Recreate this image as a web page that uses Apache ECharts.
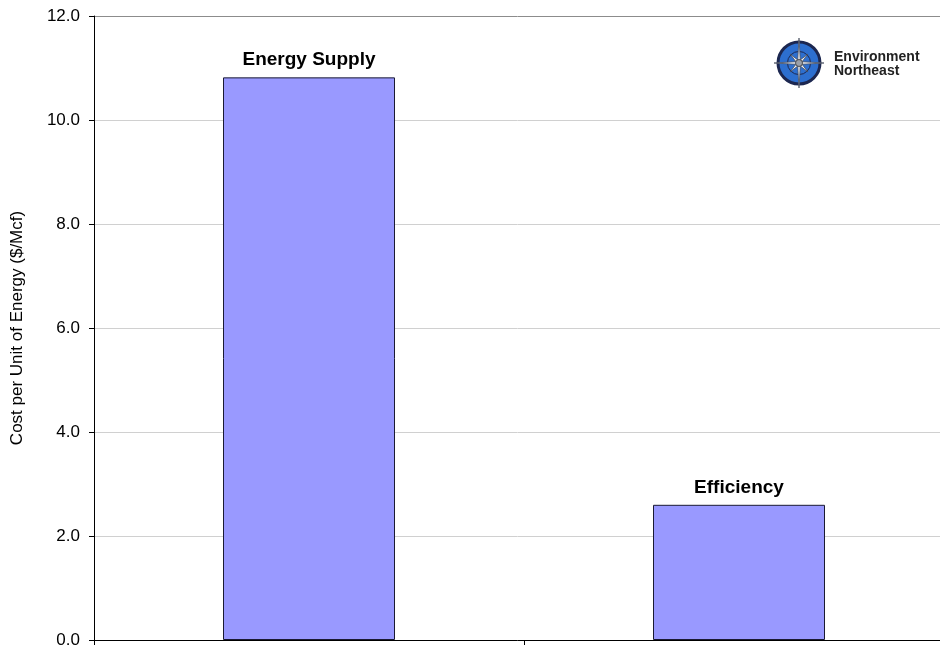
<!DOCTYPE html>
<html>
<head>
<meta charset="utf-8">
<script src="https://cdn.jsdelivr.net/npm/echarts@6/dist/echarts.min.js"></script>
<style>
html, body { margin: 0; padding: 0; background: #fff; }
#chart { width: 940px; height: 646px; }
</style>
</head>
<body>
<div id="chart"></div>
<script>
var categories = ['Energy Supply', 'Efficiency'];
var costValues = [10.82, 2.6];
var yTicks = [0, 2, 4, 6, 8, 10, 12];

var FONT = '"Liberation Sans", Arial, sans-serif';
var myChart = echarts.init(document.getElementById('chart'));

// compass logo, top right
function compassLogo(cx, cy) {
    var r = 21;
    var pts = [];
    // 4 long points, 4 medium diagonal points
    for (var i = 0; i < 16; i++) {
        var a = -Math.PI / 2 + i * Math.PI / 8;
        var len = (i % 4 === 0) ? r + 4 : (i % 2 === 0 ? r * 0.6 : r * 0.16);
        pts.push([cx + Math.cos(a) * len, cy + Math.sin(a) * len]);
    }
    return [
        { type: 'circle', shape: { cx: cx, cy: cy, r: r }, style: { fill: '#2d6fcf', stroke: '#1c2750', lineWidth: 3 }, z: 10 },
        { type: 'circle', shape: { cx: cx, cy: cy, r: r * 0.55 }, style: { fill: 'none', stroke: '#1c2750', lineWidth: 1 }, z: 10 },
        { type: 'polygon', shape: { points: pts }, style: { fill: '#eef1f6', stroke: '#4a5160', lineWidth: 0.8 }, z: 11 },
        { type: 'circle', shape: { cx: cx, cy: cy, r: 3.5 }, style: { fill: '#9aa0aa', stroke: '#333', lineWidth: 0.8 }, z: 12 },
        { type: 'text', left: cx + 35, top: cy - 13, style: { text: 'Environment\nNortheast', font: 'bold 14px ' + FONT, fill: '#222', lineHeight: 14 }, z: 12 }
    ];
}

var option = {
    animation: false,
    grid: { left: 94, width: 860, top: 16, bottom: 6, outerBoundsMode: 'none', containLabel: false },
    xAxis: {
        type: 'category',
        data: categories,
        axisLine: { lineStyle: { color: '#000', width: 1 } },
        axisTick: { show: true, length: 5, lineStyle: { color: '#000' } },
        axisLabel: { show: false }
    },
    yAxis: {
        type: 'value',
        min: yTicks[0],
        max: yTicks[yTicks.length - 1],
        interval: 2,
        name: 'Cost per Unit of Energy ($/Mcf)',
        nameLocation: 'middle',
        nameGap: 68,
        nameTextStyle: { fontSize: 17, color: '#000', fontFamily: FONT },
        axisLine: { show: true, lineStyle: { color: '#000', width: 1 } },
        axisTick: { show: true, length: 5, lineStyle: { color: '#000' } },
        axisLabel: {
            fontSize: 17, color: '#000', margin: 14, fontFamily: FONT,
            formatter: function (v) { return v.toFixed(1); }
        },
        splitLine: {
            lineStyle: {
                color: ['#d0d0d0', '#d0d0d0', '#d0d0d0', '#d0d0d0', '#d0d0d0', '#d0d0d0', '#8c8c8c'],
                width: 1
            }
        }
    },
    series: [{
        type: 'bar',
        data: costValues,
        barWidth: '40%',
        itemStyle: { color: '#9999ff', borderColor: '#1a1a33', borderWidth: 1 },
        label: {
            show: true,
            position: 'top',
            distance: 8,
            formatter: function (p) { return p.name; },
            fontSize: 19,
            fontWeight: 'bold',
            color: '#000',
            fontFamily: FONT
        }
    }],
    graphic: compassLogo(799, 63)
};
myChart.setOption(option);
</script>
</body>
</html>
